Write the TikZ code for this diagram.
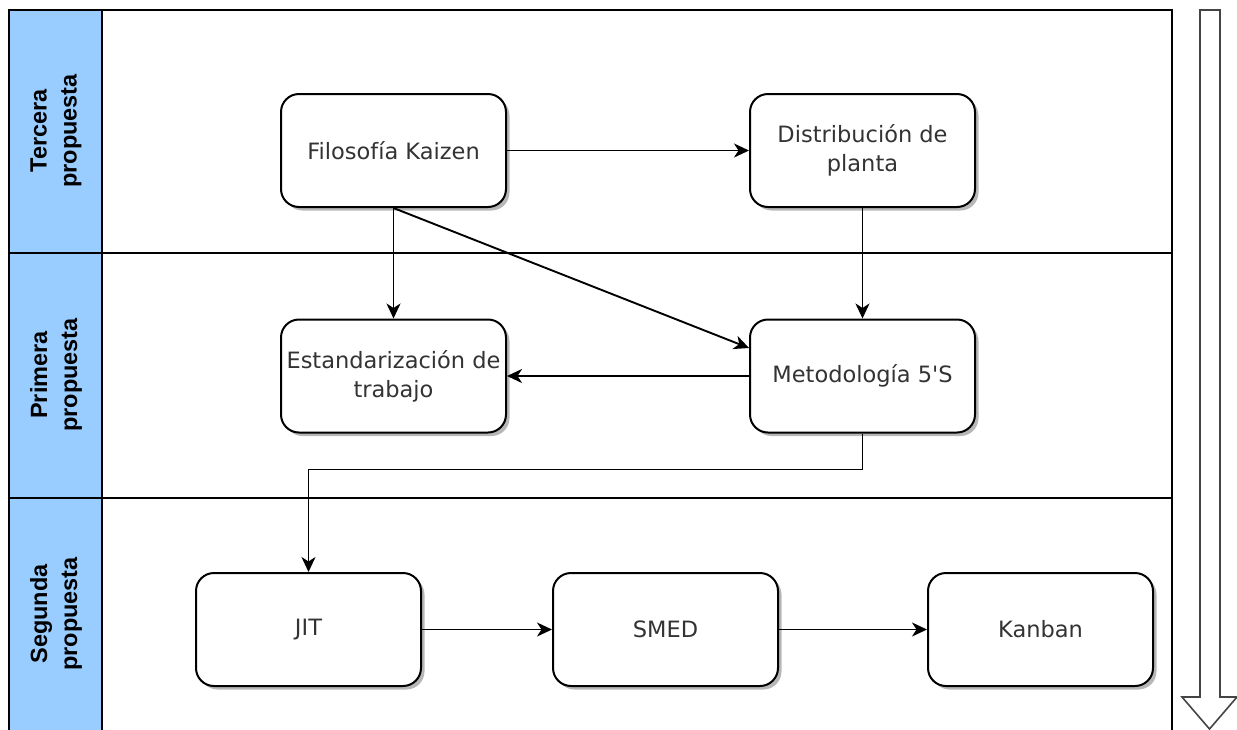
\documentclass[tikz,border=0pt]{standalone}
\usepackage{fontspec}
\setmainfont{DejaVu Sans}
\newfontfamily\lanefont{Liberation Sans}
\usetikzlibrary{arrows.meta,shadows}
\definecolor{lanecol}{HTML}{99CCFF}
\definecolor{boxtext}{HTML}{333333}
\definecolor{bigarrow}{HTML}{444444}
\begin{document}
\begin{tikzpicture}[x=1pt,y=-1pt,
  stepbox/.style={draw=black, line width=2pt, rounded corners=18pt, fill=white,
    minimum width=225pt, minimum height=113pt, inner sep=0pt, align=center,
    text=boxtext, font=\fontsize{22.5}{29}\selectfont,
    drop shadow={shadow xshift=3.5pt, shadow yshift=-3.5pt, opacity=0.4, fill=black!70}},
  flow/.style={draw=black, line width=1.9pt, -{Stealth[length=15pt,width=14pt,inset=4.5pt]}},
  lanetext/.style={rotate=90, align=center, inner sep=0pt,
    font=\lanefont\bfseries\fontsize{23.5}{30}\selectfont},
  poolline/.style={draw=black, line width=1.9pt},
]
\clip (0,0) rectangle (1237,729);

% swimlane pool with its heading column
\fill[lanecol] (9,10) rectangle (102,731);
\draw[poolline] (9,10) rectangle (1172,731);
\draw[poolline] (102,10) -- (102,731);
\draw[poolline] (9,253) -- (1172,253);
\draw[poolline] (9,498) -- (1172,498);

\node[lanetext] (lane1) at (56,131) {Tercera\\propuesta};
\node[lanetext] (lane2) at (56,375) {Primera\\propuesta};
\node[lanetext] (lane3) at (56,614) {Segunda\\propuesta};

% hollow arrow along the right margin
\draw[bigarrow, line width=1.6pt, line join=miter]
  (1200,10) -- (1220,10) -- (1220,697) -- (1237,697) -- (1209.5,729)
  -- (1182,697) -- (1200,697) -- cycle;

% steps
\node[stepbox] (kaizen) at (393.5,150.5) {Filosofía Kaizen};
\node[stepbox] (dist)   at (862.5,150.5) {Distribución de\\planta};
\node[stepbox] (estand) at (393.5,376)   {Estandarización de\\trabajo};
\node[stepbox] (meto)   at (862.5,376)   {Metodología 5\textquotesingle S};
\node[stepbox] (jit)    at (308.5,629.5) {JIT};
\node[stepbox] (smed)   at (665.5,629.5) {SMED};
\node[stepbox] (kanban) at (1040.5,629.5) {Kanban};

% connectors
\draw[flow] (kaizen.east) -- (dist.west);
\draw[flow] (kaizen.south) -- (estand.north);
\draw[flow] (kaizen.south) -- ([yshift=28pt]meto.west);
\draw[flow] (dist.south) -- (meto.north);
\draw[flow] (meto.west) -- (estand.east);
\draw[flow] (meto.south) -- ++(0,36) -| (jit.north);
\draw[flow] (jit.east) -- (smed.west);
\draw[flow] (smed.east) -- (kanban.west);
\end{tikzpicture}
\end{document}
